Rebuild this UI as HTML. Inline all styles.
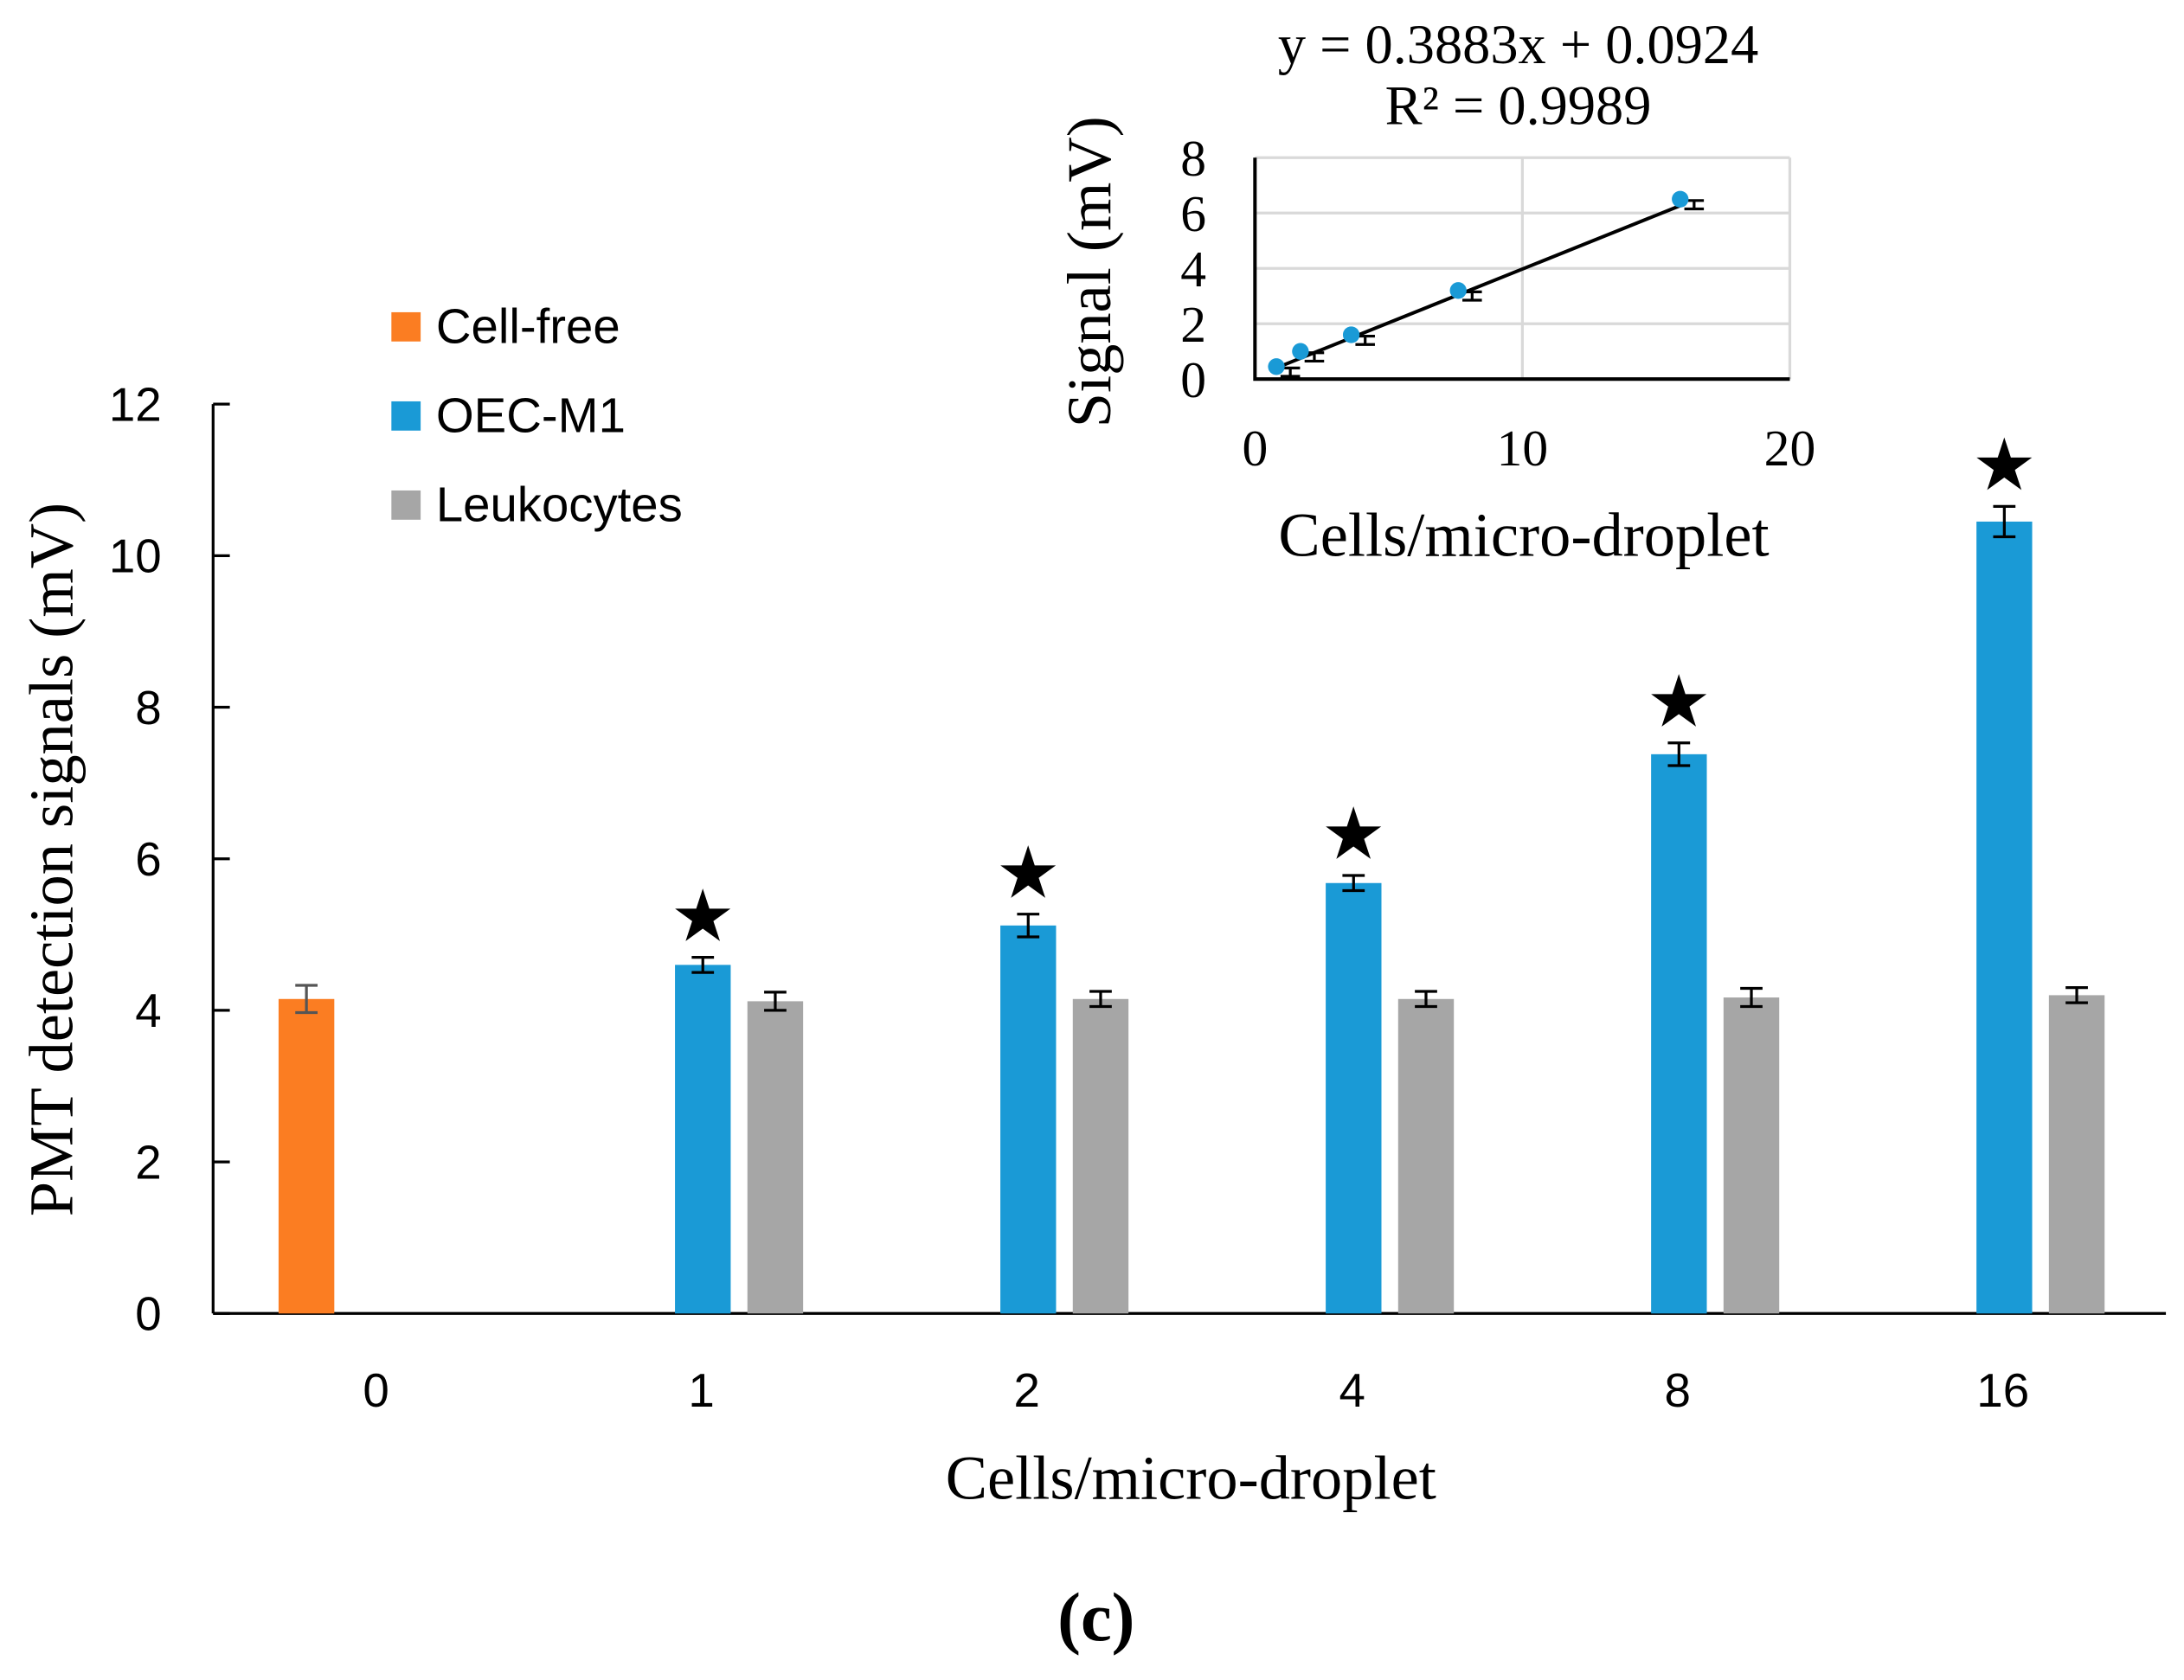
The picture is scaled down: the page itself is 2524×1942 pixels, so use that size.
<!DOCTYPE html>
<html><head><meta charset="utf-8"><style>
html,body{margin:0;padding:0;background:#fff}
svg{display:block}
.sans{font-family:"Liberation Sans","DejaVu Sans",sans-serif}
.serif{font-family:"Liberation Serif",serif}
</style></head><body>
<svg id="chart" width="2524" height="1942" viewBox="0 0 1568 1206" xmlns="http://www.w3.org/2000/svg">
<g id="main"></g>
<g id="inset"></g>
</svg>
<script>
const categories=["0","1","2","4","8","16"];
const cellFree=[4.15,null,null,null,null,null];
const cellFreeErr=[0.18,0,0,0,0,0];
const oec=[null,4.6,5.12,5.68,7.38,10.45];
const oecErr=[0,0.1,0.15,0.1,0.15,0.2];
const leuko=[null,4.12,4.15,4.15,4.17,4.2];
const leukoErr=[0,0.12,0.1,0.1,0.12,0.1];
const stars=[false,true,true,true,true,true];
const yTicks=[0,2,4,6,8,10,12];
const insetX=[0.8,1.7,3.6,7.6,15.9];
const insetY=[0.45,1.0,1.6,3.2,6.5];
const insetYTicks=[0,2,4,6,8];
const insetXTicks=[0,10,20];
const slope=0.3883, intercept=0.0924;

const NS="http://www.w3.org/2000/svg";
function mk(parent,tag,attrs,text){const e=document.createElementNS(NS,tag);for(const k in attrs)e.setAttribute(k,attrs[k]);if(text!==undefined)e.textContent=text;parent.appendChild(e);return e;}
const main=document.getElementById('main');
const y=v=>943-v*(943-290)/12;
const cx=i=>270+i*233.6;
let e;
e=mk(main,'line',{x1:153,y1:290,x2:153,y2:943,stroke:'#000','stroke-width':2});


e=mk(main,'line',{x1:153,y1:943,x2:1555,y2:943,stroke:'#000','stroke-width':2});


yTicks.forEach(t=>{
 e=mk(main,'line',{x1:153,y1:y(t),x2:165,y2:y(t),stroke:'#000','stroke-width':2});
 
 
 e=mk(main,'text',{x:116,y:y(t)+12,'text-anchor':'end','font-size':34,class:'sans'},t);
 
 
});
categories.forEach((c,i)=>{
 e=mk(main,'text',{x:cx(i),y:1010,'text-anchor':'middle','font-size':34,class:'sans'},c);
 
 
});
function bar(v,err,center,color,name,ecol){
 if(v==null)return;
 e=mk(main,'rect',{x:center-20,y:y(v),width:40,height:y(0)-y(v),fill:color});
 
 
 const g=mk(main,'g',{stroke:ecol,'stroke-width':2});
 
 
 mk(g,'line',{x1:center,y1:y(v+err),x2:center,y2:y(v-err)});
 mk(g,'line',{x1:center-8,y1:y(v+err),x2:center+8,y2:y(v+err)});
 mk(g,'line',{x1:center-8,y1:y(v-err),x2:center+8,y2:y(v-err)});
}
categories.forEach((c,i)=>{
 bar(cellFree[i],cellFreeErr[i],cx(i)-50,'#fb7d22','bar-cell-free','#555');
 bar(oec[i],oecErr[i],cx(i)+1,'#1a9ad6','bar-oec-m1','#000');
 bar(leuko[i],leukoErr[i],cx(i)+53,'#a6a6a6','bar-leukocytes','#000');
 if(stars[i]){
  e=mk(main,'text',{x:cx(i)+1,y:y(oec[i]+oecErr[i])-12,'text-anchor':'middle','font-size':52,class:'serif'},'★');
  
  
 }
});
[['Cell-free','#fb7d22'],['OEC-M1','#1a9ad6'],['Leukocytes','#a6a6a6']].forEach((l,i)=>{
 e=mk(main,'rect',{x:281,y:224+i*64,width:21,height:21,fill:l[1]});
 
 
 e=mk(main,'text',{x:313,y:246+i*64,'font-size':35,class:'sans'},l[0]);
 
 
});
e=mk(main,'text',{x:0,y:0,'font-size':45,class:'serif','text-anchor':'middle',transform:'translate(52,617) rotate(-90)'},'PMT detection signals (mV)');


e=mk(main,'text',{x:855,y:1076,'font-size':45,class:'serif','text-anchor':'middle'},'Cells/micro-droplet');


e=mk(main,'text',{x:787,y:1178,'font-size':50,'font-weight':'bold',class:'serif','text-anchor':'middle'},'(c)');



const ins=document.getElementById('inset');
const ix=v=>901+v*(1285-901)/20;
const iy=v=>272-v*(272-113)/8;
insetYTicks.forEach(t=>{
 if(t>0){e=mk(ins,'line',{x1:901,y1:iy(t),x2:1285,y2:iy(t),stroke:'#d9d9d9','stroke-width':2});
 
 }
 e=mk(ins,'text',{x:866,y:iy(t)+13,'text-anchor':'end','font-size':37,class:'serif'},t);
 
 
});
insetXTicks.forEach(t=>{
 if(t>0){e=mk(ins,'line',{x1:ix(t),y1:113,x2:ix(t),y2:272,stroke:'#d9d9d9','stroke-width':2});
 
 }
 e=mk(ins,'text',{x:ix(t),y:334,'text-anchor':'middle','font-size':37,class:'serif'},t);
 
 
});
e=mk(ins,'polyline',{points:'901,113 901,272 1285,272',fill:'none',stroke:'#000','stroke-width':2.5});


e=mk(ins,'line',{x1:ix(insetX[0]+0.2),y1:iy(slope*(insetX[0]+0.2)+intercept),x2:ix(insetX[insetX.length-1]),y2:iy(slope*insetX[insetX.length-1]+intercept),stroke:'#000','stroke-width':2.5});


insetX.forEach((xv,i)=>{
 const px=ix(xv)+10, pv=insetY[i]-0.2;
 e=mk(ins,'path',{d:`M${px-7},${iy(pv)-3}H${px+7}M${px},${iy(pv)-3}V${iy(pv)+3}M${px-7},${iy(pv)+3}H${px+7}`,stroke:'#000','stroke-width':2,fill:'none'});
 
 
 e=mk(ins,'circle',{cx:ix(xv),cy:iy(insetY[i]),r:6,fill:'#1a9ad6'});
 
 
});
e=mk(ins,'text',{x:1090,y:45,'font-size':40,class:'serif','text-anchor':'middle'},'y = 0.3883x + 0.0924');


e=mk(ins,'text',{x:1090,y:89,'font-size':40,class:'serif','text-anchor':'middle'},'R² = 0.9989');


e=mk(ins,'text',{x:0,y:0,'font-size':45,class:'serif','text-anchor':'middle',transform:'translate(797,195) rotate(-90)'},'Signal (mV)');


e=mk(ins,'text',{x:1094,y:399,'font-size':45,class:'serif','text-anchor':'middle'},'Cells/micro-droplet');


</script>
</body></html>
